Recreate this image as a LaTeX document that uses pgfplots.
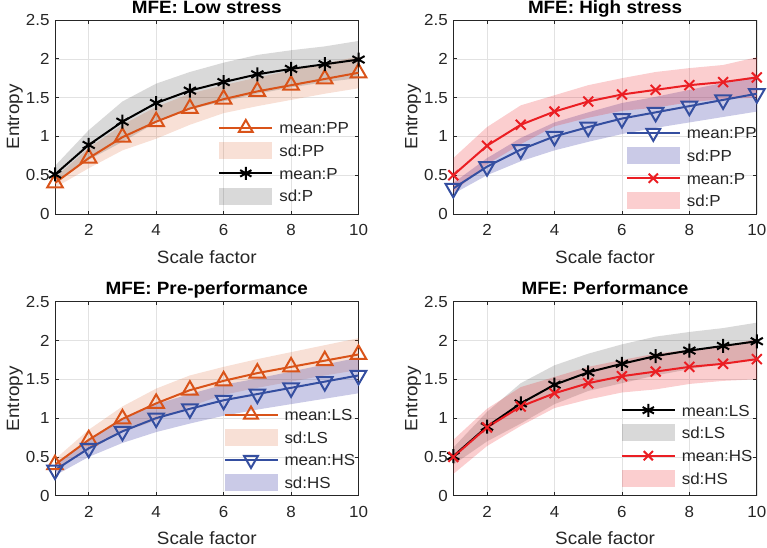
\documentclass[border=0pt]{standalone}
\usepackage{fontspec}
\setmainfont{Liberation Sans}[FakeStretch=1.06]
\usepackage{pgfplots}
\pgfplotsset{compat=1.18}
\usepackage{pgfplotstable}
\usepgfplotslibrary{fillbetween}

\definecolor{cOr}{RGB}{217,83,25}
\definecolor{cBl}{RGB}{52,78,160}
\definecolor{cBf}{RGB}{60,60,165}
\definecolor{cRd}{RGB}{235,30,35}
\definecolor{cAx}{RGB}{38,38,38}
\definecolor{cGr}{RGB}{226,226,226}

\newcommand\tf{\fontsize{16bp}{19bp}\selectfont}
\newcommand\lf{\fontsize{17.8bp}{21bp}\selectfont}

% LS pre-performance (orange)
\pgfplotstableread{
x m lo hi
1 0.40 0.34 0.47
2 0.72 0.59 0.85
3 0.99 0.82 1.15
4 1.19 0.97 1.38
5 1.36 1.15 1.55
6 1.48 1.30 1.66
7 1.58 1.39 1.76
8 1.66 1.47 1.85
9 1.74 1.55 1.94
10 1.82 1.62 2.03
}\tOr
% LS performance (black)
\pgfplotstableread{
x m lo hi
1 0.51 0.40 0.62
2 0.89 0.70 1.08
3 1.19 0.93 1.45
4 1.43 1.18 1.68
5 1.59 1.35 1.83
6 1.70 1.45 1.95
7 1.80 1.55 2.05
8 1.87 1.63 2.11
9 1.93 1.70 2.16
10 1.99 1.75 2.23
}\tBk
% HS pre-performance (blue)
\pgfplotstableread{
x m lo hi
1 0.33 0.26 0.40
2 0.61 0.50 0.72
3 0.83 0.68 0.98
4 1.00 0.82 1.18
5 1.12 0.93 1.31
6 1.23 1.03 1.43
7 1.31 1.11 1.51
8 1.39 1.18 1.60
9 1.47 1.25 1.69
10 1.55 1.32 1.78
}\tBl
% HS performance (red)
\pgfplotstableread{
x m lo hi
1 0.50 0.28 0.72
2 0.88 0.64 1.12
3 1.15 0.90 1.40
4 1.32 1.13 1.53
5 1.45 1.24 1.66
6 1.54 1.33 1.75
7 1.60 1.37 1.83
8 1.66 1.44 1.88
9 1.70 1.48 1.92
10 1.76 1.50 2.02
}\tRd

\pgfplotsset{
  lineleg/.style={legend image code/.code={\draw[mark repeat=2,mark phase=2,##1] plot coordinates {(0bp,0bp) (26.5bp,0bp) (53bp,0bp)};}},
  arealeg/.style={legend image code/.code={\fill[##1] (0bp,-8.5bp) rectangle (53bp,8.5bp);}},
  every axis title shift=0pt,
  panel/.style={
    scale only axis, width=303.5bp, height=194bp,
    xmin=1, xmax=10, ymin=0, ymax=2.5,
    xtick={2,4,6,8,10}, ytick={0,0.5,1,1.5,2,2.5},
    grid=major, major grid style={cGr, line width=0.6bp},
    axis line style={cAx, line width=0.75bp},
    tick style={cAx, line width=0.75bp},
    major tick length=3.5bp, tick align=inside,
    /pgf/number format/assume math mode=true,
    tick label style={font=\tf, text=cAx},
    xticklabel style={yshift=-7bp},
    yticklabel style={xshift=-2bp},
    xlabel={Scale factor}, ylabel={Entropy},
    label style={font=\lf, text=cAx},
    xlabel style={at={(axis description cs:0.5,-0.2526)}, anchor=base},
    ylabel style={at={(axis description cs:-0.1186,0.5)}, anchor=base},
    title style={font=\lf\bfseries, at={(axis description cs:0.5,1.035)}, anchor=base},
    legend cell align=left,
    legend style={draw=none, fill=none, inner sep=0pt, outer sep=0pt,
      row sep=0pt, column sep=6bp, font=\tf, text=cAx,
      nodes={inner sep=0pt, text height=11.5bp, text depth=0bp, minimum height=22.7bp},
      at={(rel axis cs:0,0)}, anchor=south west},
  },
  band/.style={fill=#1, draw=none, forget plot},
  mline/.style={#1, line width=2bp, forget plot},
}

\begin{document}
\begin{tikzpicture}

% Panel 1: Low stress
\begin{axis}[panel, at={(55bp,-20bp)}, anchor=north west,
  title={MFE: Low stress},
  legend style={xshift=163.3bp, yshift=6.6bp},
  legend entries={mean:PP, sd:PP, mean:P, sd:P}]
\addplot[draw=none, name path=a1, forget plot] table[x=x,y=hi]{\tOr};
\addplot[draw=none, name path=b1, forget plot] table[x=x,y=lo]{\tOr};
\addplot[band=cOr, fill opacity=0.18] fill between[of=a1 and b1];
\addplot[draw=none, name path=c1, forget plot] table[x=x,y=hi]{\tBk};
\addplot[draw=none, name path=d1, forget plot] table[x=x,y=lo]{\tBk};
\addplot[band=black, fill opacity=0.15] fill between[of=c1 and d1];
\addplot[mline=cOr, mark=triangle, mark size=9bp] table[x=x,y=m]{\tOr};
\addplot[mline=black, mark=asterisk, mark size=7bp] table[x=x,y=m]{\tBk};
\addlegendimage{lineleg, cOr, line width=2bp, mark=triangle, mark size=8bp}
\addlegendimage{arealeg, fill=cOr, fill opacity=0.18, draw=none}
\addlegendimage{lineleg, black, line width=2bp, mark=asterisk, mark size=6.5bp}
\addlegendimage{arealeg, fill=black, fill opacity=0.15, draw=none}
\end{axis}

% Panel 2: High stress
\begin{axis}[panel, at={(453.3bp,-20bp)}, anchor=north west,
  title={MFE: High stress},
  legend style={xshift=172.5bp, yshift=1.7bp},
  legend entries={mean:PP, sd:PP, mean:P, sd:P}]
\addplot[draw=none, name path=a2, forget plot] table[x=x,y=hi]{\tBl};
\addplot[draw=none, name path=b2, forget plot] table[x=x,y=lo]{\tBl};
\addplot[band=cBf, fill opacity=0.27] fill between[of=a2 and b2];
\addplot[draw=none, name path=c2, forget plot] table[x=x,y=hi]{\tRd};
\addplot[draw=none, name path=d2, forget plot] table[x=x,y=lo]{\tRd};
\addplot[band=cRd, fill opacity=0.22] fill between[of=c2 and d2];
\addplot[mline=cBl, mark=triangle, mark options={rotate=180}, mark size=9bp] table[x=x,y=m]{\tBl};
\addplot[mline=cRd, mark=x, mark size=7bp] table[x=x,y=m]{\tRd};
\addlegendimage{lineleg, cBl, line width=2bp, mark=triangle, mark options={rotate=180}, mark size=8bp}
\addlegendimage{arealeg, fill=cBf, fill opacity=0.27, draw=none}
\addlegendimage{lineleg, cRd, line width=2bp, mark=x, mark size=6.5bp}
\addlegendimage{arealeg, fill=cRd, fill opacity=0.22, draw=none}
\end{axis}

% Panel 3: Pre-performance
\begin{axis}[panel, at={(55bp,-301.7bp)}, anchor=north west,
  title={MFE: Pre-performance},
  legend style={xshift=168.5bp, yshift=1.7bp},
  legend entries={mean:LS, sd:LS, mean:HS, sd:HS}]
\addplot[draw=none, name path=a3, forget plot] table[x=x,y=hi]{\tOr};
\addplot[draw=none, name path=b3, forget plot] table[x=x,y=lo]{\tOr};
\addplot[band=cOr, fill opacity=0.18] fill between[of=a3 and b3];
\addplot[draw=none, name path=c3, forget plot] table[x=x,y=hi]{\tBl};
\addplot[draw=none, name path=d3, forget plot] table[x=x,y=lo]{\tBl};
\addplot[band=cBf, fill opacity=0.27] fill between[of=c3 and d3];
\addplot[mline=cOr, mark=triangle, mark size=9bp] table[x=x,y=m]{\tOr};
\addplot[mline=cBl, mark=triangle, mark options={rotate=180}, mark size=9bp] table[x=x,y=m]{\tBl};
\addlegendimage{lineleg, cOr, line width=2bp, mark=triangle, mark size=8bp}
\addlegendimage{arealeg, fill=cOr, fill opacity=0.18, draw=none}
\addlegendimage{lineleg, cBl, line width=2bp, mark=triangle, mark options={rotate=180}, mark size=8bp}
\addlegendimage{arealeg, fill=cBf, fill opacity=0.27, draw=none}
\end{axis}

% Panel 4: Performance
\begin{axis}[panel, at={(453.3bp,-301.7bp)}, anchor=north west,
  title={MFE: Performance},
  legend style={xshift=167.5bp, yshift=6bp},
  legend entries={mean:LS, sd:LS, mean:HS, sd:HS}]
\addplot[draw=none, name path=a4, forget plot] table[x=x,y=hi]{\tBk};
\addplot[draw=none, name path=b4, forget plot] table[x=x,y=lo]{\tBk};
\addplot[band=black, fill opacity=0.15] fill between[of=a4 and b4];
\addplot[draw=none, name path=c4, forget plot] table[x=x,y=hi]{\tRd};
\addplot[draw=none, name path=d4, forget plot] table[x=x,y=lo]{\tRd};
\addplot[band=cRd, fill opacity=0.22] fill between[of=c4 and d4];
\addplot[mline=black, mark=asterisk, mark size=7bp] table[x=x,y=m]{\tBk};
\addplot[mline=cRd, mark=x, mark size=7bp] table[x=x,y=m]{\tRd};
\addlegendimage{lineleg, black, line width=2bp, mark=asterisk, mark size=6.5bp}
\addlegendimage{arealeg, fill=black, fill opacity=0.15, draw=none}
\addlegendimage{lineleg, cRd, line width=2bp, mark=x, mark size=6.5bp}
\addlegendimage{arealeg, fill=cRd, fill opacity=0.22, draw=none}
\end{axis}
\pgfresetboundingbox
\useasboundingbox (0,0) rectangle (767bp,-548bp);
\end{tikzpicture}
\end{document}
